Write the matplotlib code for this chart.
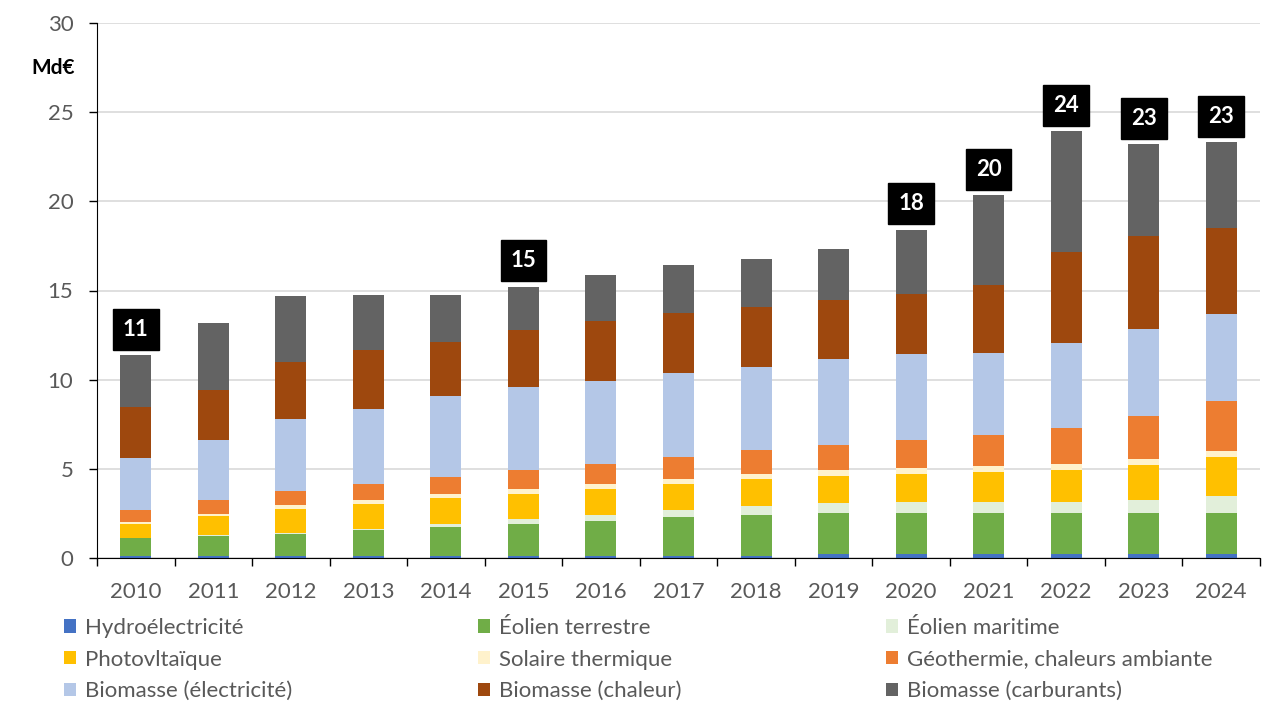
import numpy as np
import matplotlib
matplotlib.use("Agg")
import matplotlib.pyplot as plt
from matplotlib.patches import Patch

plt.rcParams["font.family"] = ["Lato", "DejaVu Sans"]

# --- Données (Md€) ---
years = [2010, 2011, 2012, 2013, 2014, 2015, 2016, 2017,
         2018, 2019, 2020, 2021, 2022, 2023, 2024]

hydro = [0.14, 0.14, 0.14, 0.14, 0.14, 0.14, 0.14, 0.14,
         0.14, 0.20, 0.20, 0.20, 0.20, 0.20, 0.20]
eolien_terrestre = [0.96, 1.11, 1.20, 1.41, 1.58, 1.75, 1.92, 2.15,
                    2.26, 2.31, 2.31, 2.31, 2.31, 2.31, 2.31]
eolien_maritime = [0.00, 0.03, 0.05, 0.05, 0.21, 0.28, 0.34, 0.39,
                   0.51, 0.57, 0.62, 0.62, 0.62, 0.73, 0.96]
photovoltaique = [0.79, 1.05, 1.34, 1.42, 1.43, 1.41, 1.47, 1.47,
                  1.52, 1.52, 1.58, 1.69, 1.81, 1.98, 2.20]
solaire_thermique = [0.15, 0.15, 0.23, 0.22, 0.22, 0.29, 0.28, 0.28,
                     0.28, 0.34, 0.34, 0.34, 0.34, 0.34, 0.34]
geothermie = [0.64, 0.76, 0.79, 0.91, 0.96, 1.07, 1.13, 1.24,
              1.36, 1.41, 1.58, 1.75, 2.03, 2.43, 2.82]
biomasse_elec = [2.94, 3.36, 4.07, 4.19, 4.53, 4.64, 4.64, 4.70,
                 4.63, 4.80, 4.81, 4.58, 4.75, 4.86, 4.86]
biomasse_chaleur = [2.85, 2.84, 3.16, 3.32, 3.04, 3.21, 3.39, 3.38,
                    3.38, 3.33, 3.38, 3.83, 5.12, 5.23, 4.79]
biomasse_carburants = [2.91, 3.72, 3.72, 3.10, 2.65, 2.42, 2.58, 2.70,
                       2.71, 2.87, 3.60, 5.02, 6.76, 5.13, 4.84]

series_names = ["Hydroélectricité", "Éolien terrestre", "Éolien maritime",
                "Photovltaïque", "Solaire thermique", "Géothermie, chaleurs ambiante",
                "Biomasse (électricité)", "Biomasse (chaleur)", "Biomasse (carburants)"]
series_values = [hydro, eolien_terrestre, eolien_maritime, photovoltaique,
                 solaire_thermique, geothermie, biomasse_elec, biomasse_chaleur,
                 biomasse_carburants]
series_colors = ["#4472C4", "#70AD47", "#E2EFDA", "#FFC000", "#FFF2CC",
                 "#ED7D31", "#B4C7E7", "#9E480E", "#636363"]

# années avec étiquette du total
label_years = [2010, 2015, 2020, 2021, 2022, 2023, 2024]

# --- Figure ---
fig = plt.figure(figsize=(12.8, 7.2), dpi=100)
ax = fig.add_axes([97 / 1280, 1 - 558 / 720, 1163 / 1280, 535 / 720])

x = np.arange(len(years))
bottom = np.zeros(len(years))
for name, vals, col in zip(series_names, series_values, series_colors):
    vals = np.array(vals)
    ax.bar(x, vals, width=0.4, bottom=bottom, color=col, label=name, zorder=2)
    bottom += vals

totals = bottom
for yr in label_years:
    i = years.index(yr)
    ax.annotate(f"{totals[i]:.0f}", (x[i], totals[i]), xytext=(0, 11),
                textcoords="offset points", ha="center", va="bottom",
                color="white", fontsize=16, fontweight="bold",
                bbox=dict(boxstyle="square,pad=0.45", fc="black", ec="black"),
                zorder=3)

ax.set_xlim(-0.5, len(years) - 0.5)
ax.set_ylim(0, 30)
ax.set_yticks(range(0, 31, 5))
ax.set_xticks(x)
ax.set_xticklabels([str(y) for y in years])
ax.set_xticks(np.arange(-0.5, len(years)), minor=True)
ax.tick_params(axis="x", which="major", length=0, pad=17, labelsize=16, labelcolor="#595959")
ax.tick_params(axis="x", which="minor", length=6, width=1, direction="out", color="black")
ax.tick_params(axis="y", length=6, width=1, direction="out", pad=11, labelsize=16,
               labelcolor="#595959", color="black")

ax.grid(axis="y", color="#D9D9D9", linewidth=1.2, zorder=0)
ax.set_axisbelow(True)
for side in ["top", "right"]:
    ax.spines[side].set_visible(False)
ax.spines["left"].set_color("black")
ax.spines["bottom"].set_color("black")

fig.text(53 / 1280, 1 - 68 / 720, "Md€", ha="center", va="center",
         fontsize=15, fontweight="bold", color="black")

# --- Légende (3 colonnes, ordre par ligne) ---
col_x = [64 / 1280, 478 / 1280, 886 / 1280]
for c in range(3):
    idx = [c, c + 3, c + 6]
    handles = [Patch(facecolor=series_colors[k], edgecolor="none") for k in idx]
    labels = [series_names[k] for k in idx]
    fig.legend(handles, labels, loc="upper left", bbox_to_anchor=(col_x[c], 1 - 618 / 720),
               frameon=False, fontsize=16, labelcolor="#595959", handlelength=0.55,
               handleheight=0.55, handletextpad=0.4, labelspacing=0.52, borderpad=0,
               borderaxespad=0)

fig.savefig("out.png", dpi=100)
